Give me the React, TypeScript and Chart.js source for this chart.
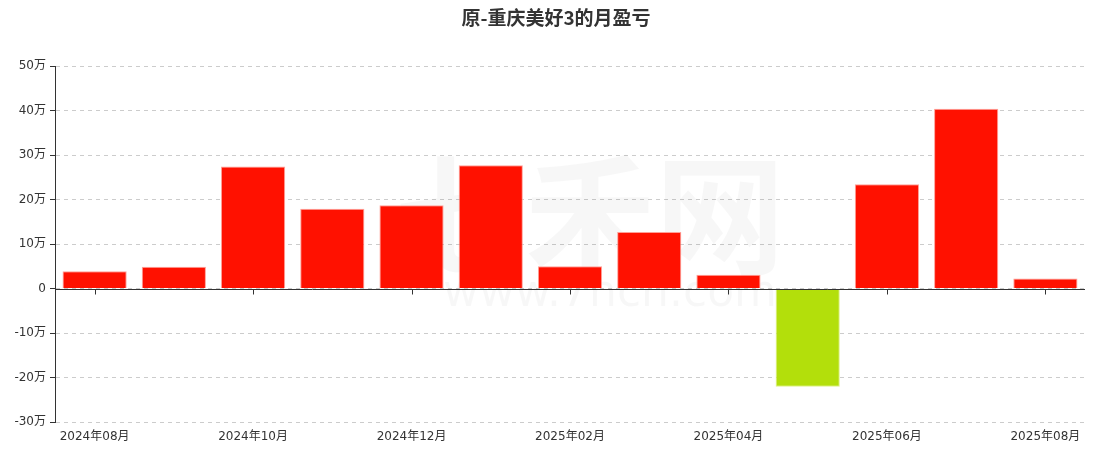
import React, { useEffect, useRef } from "react";
import { Chart, registerables } from "chart.js";

Chart.register(...registerables);

const title = "原-重庆美好3的月盈亏";
const months = [
  "2024年08月", "2024年09月", "2024年10月", "2024年11月", "2024年12月",
  "2025年01月", "2025年02月", "2025年03月", "2025年04月", "2025年05月",
  "2025年06月", "2025年07月", "2025年08月",
];
// 单位：万
const profit = [3.9, 4.9, 27.4, 17.9, 18.7, 27.7, 5.0, 12.7, 3.1, -22.1, 23.4, 40.4, 2.25];
const yTicks = [-30, -20, -10, 0, 10, 20, 30, 40, 50];

const RED = "#ff1100";
const GREEN = "#b3df0b";
const FONT = "'DejaVu Sans', 'Noto Sans CJK SC', sans-serif";

const overlay = {
  id: "overlay",
  beforeDatasetsDraw(chart: any) {
    const { ctx, chartArea } = chart;
    ctx.save();
    ctx.fillStyle = "rgba(0,0,0,0.03)";
    ctx.textAlign = "center";
    ctx.textBaseline = "middle";
    ctx.font = "bold 130px 'Noto Sans CJK SC', sans-serif";
    const cx = (chartArea.left + chartArea.right) / 2;
    ctx.fillText("七禾网", cx + 20, 215);
    ctx.font = "44px 'DejaVu Sans', sans-serif";
    ctx.fillText("www.7hcn.com", cx + 40, 295);
    ctx.restore();
  },
  afterDatasetsDraw(chart: any) {
    const { ctx, chartArea, scales } = chart;
    const y0 = Math.round(scales.y.getPixelForValue(0)) + 0.5;
    ctx.save();
    ctx.strokeStyle = "#333";
    ctx.lineWidth = 1;
    ctx.beginPath();
    ctx.moveTo(chartArea.left, y0);
    ctx.lineTo(chartArea.right, y0);
    for (let i = 0; i < months.length; i += 2) {
      const x = Math.round(scales.x.getPixelForValue(i)) + 0.5;
      ctx.moveTo(x, y0);
      ctx.lineTo(x, y0 + 5);
    }
    ctx.stroke();
    // title
    ctx.fillStyle = "#333";
    ctx.textAlign = "center";
    ctx.textBaseline = "middle";
    ctx.font = "bold 19px 'Noto Sans CJK SC', sans-serif";
    ctx.fillText(title, 556, 18);
    ctx.restore();
  },
};

export default function App() {
  const ref = useRef<HTMLCanvasElement>(null);
  useEffect(() => {
    if (!ref.current) return;
    const chart = new Chart(ref.current, {
      type: "bar",
      data: {
        labels: months,
        datasets: [
          {
            data: profit,
            backgroundColor: (c: any) => (c.raw < 0 ? GREEN : RED),
            borderColor: (c: any) => (c.raw < 0 ? "rgba(220,240,120,0.9)" : "rgba(255,150,140,0.9)"),
            borderWidth: 1,
            barPercentage: 0.81,
            categoryPercentage: 1,
          },
        ],
      },
      plugins: [overlay],
      options: {
        animation: false,
        responsive: true,
        maintainAspectRatio: false,
        layout: { padding: { left: 0, right: 14, top: 66, bottom: 0 } },
        plugins: {
          legend: { display: false },
          tooltip: { enabled: false },
          title: { display: false },
        },
        scales: {
          x: {
            grid: { display: false, drawTicks: false },
            border: { display: false },
            ticks: {
              autoSkip: false,
              maxRotation: 0,
              padding: 8,
              color: "#333",
              font: { size: 12, family: FONT },
              callback: (_v: any, i: number) => (i % 2 === 0 ? months[i] : null),
            },
            afterFit: (s: any) => {
              s.height = 32;
            },
          },
          y: {
            min: -30,
            max: 50,
            afterBuildTicks: (s: any) => {
              s.ticks = yTicks.map((v) => ({ value: v }));
            },
            grid: {
              color: "#cccccc",
              tickColor: "#333",
              tickLength: 5,
              drawTicks: true,
            },
            border: { display: true, color: "#333", dash: [4, 4] },
            ticks: {
              padding: 4,
              color: "#333",
              font: { size: 12, family: FONT },
              callback: (v: any) => (v === 0 ? "0" : v + "万"),
            },
            afterFit: (s: any) => {
              s.width = 55;
            },
          },
        },
      } as any,
    });
    return () => chart.destroy();
  }, []);
  return (
    <div style={{ position: "fixed", left: 0, top: 0, width: 1099, height: 454, background: "#fff" }}>
      <canvas ref={ref} />
    </div>
  );
}
